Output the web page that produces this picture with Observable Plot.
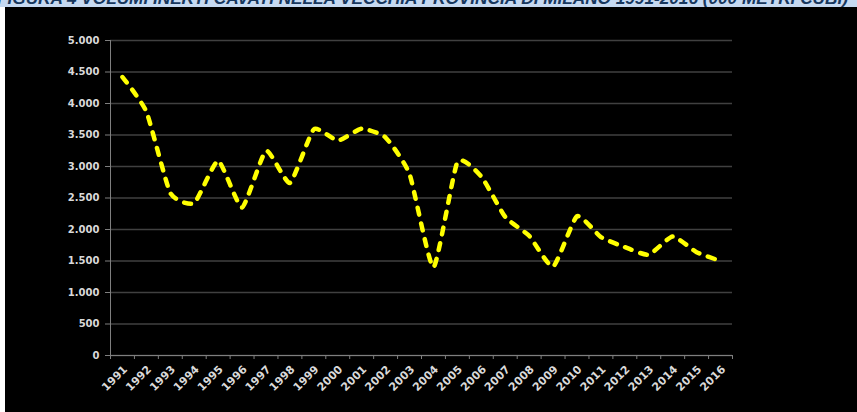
<!DOCTYPE html>
<html>
<head>
<meta charset="utf-8">
<script src="https://cdn.jsdelivr.net/npm/d3@7"></script>
<script src="https://cdn.jsdelivr.net/npm/@observablehq/plot@0.6"></script>
<style>
  html, body { margin: 0; padding: 0; background: #ffffff; width: 857px; height: 412px; overflow: hidden; }
  #title { position: absolute; left: 0; top: 0; width: 857px; height: 7px; background: #c6d9f1; overflow: hidden; }
  #title span { position: absolute; left: -3px; top: -12px; white-space: nowrap; font: italic bold 17.2px "Liberation Sans", Arial, sans-serif; color: #17375e; }
  #chart { position: absolute; left: 5px; top: 7px; width: 852px; height: 405px; background: #000; }
</style>
</head>
<body>
<div id="title"><span>FIGURA 4 VOLUMI INERTI CAVATI NELLA VECCHIA PROVINCIA DI MILANO 1991-2016 (000 METRI CUBI)</span></div>
<div id="chart"></div>
<script>
const years = [1991,1992,1993,1994,1995,1996,1997,1998,1999,2000,2001,2002,2003,2004,2005,2006,2007,2008,2009,2010,2011,2012,2013,2014,2015,2016];
const volumes = [4420,3870,2580,2420,3090,2350,3250,2740,3590,3410,3600,3460,2880,1400,3070,2840,2200,1900,1410,2210,1880,1720,1600,1890,1640,1500];
const yTicks = [0,500,1000,1500,2000,2500,3000,3500,4000,4500,5000];
const boundaries = d3.range(years[0] - 0.5, years[years.length - 1] + 1, 1);

const data = years.map((y, i) => ({year: y, value: volumes[i]}));
const fmt = v => d3.format(",")(v).replace(/,/g, ".");
const font = "'DejaVu Sans', Verdana, sans-serif";

const chart = Plot.plot({
  width: 852,
  height: 405,
  marginLeft: 105,
  marginRight: 125,
  marginTop: 33,
  marginBottom: 57,
  style: {background: "#000", color: "#d9d9d9", fontFamily: font, fontSize: "10px", fontWeight: "bold", overflow: "visible"},
  x: {type: "linear", domain: [years[0] - 0.5, years[years.length - 1] + 0.5]},
  y: {domain: [0, 5000]},
  marks: [
    Plot.gridY(yTicks, {stroke: "#404040", strokeOpacity: 1, strokeWidth: 1.3}),
    Plot.axisY({ticks: yTicks, tickFormat: fmt, tickSize: 5, tickPadding: 6, stroke: "#7f7f7f", label: null, fontSize: 10}),
    Plot.axisX({ticks: boundaries, tickFormat: () => "", tickSize: 4, stroke: "#7f7f7f", label: null}),
    Plot.axisX({ticks: years, tickFormat: d => String(d), tickSize: 0, tickPadding: 9, rotate: -45, textAnchor: "end", label: null, fontSize: 11}),
    Plot.frame({anchor: "left", stroke: "#7f7f7f"}),
    Plot.frame({anchor: "bottom", stroke: "#7f7f7f"}),
    Plot.line(data, {x: "year", y: "value", curve: "cardinal", tension: 0.5, stroke: "#ffff00", strokeWidth: 4.5, strokeDasharray: "7,9", strokeLinecap: "round"})
  ]
});
document.getElementById("chart").appendChild(chart);
</script>
</body>
</html>
